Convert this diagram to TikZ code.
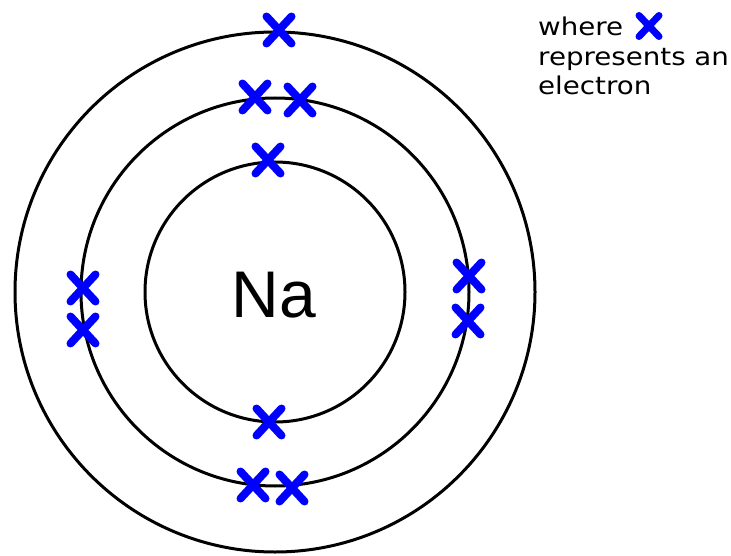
\documentclass[tikz,border=0pt]{standalone}
\usepackage{fontspec}
\setmainfont{Liberation Sans}
\newfontfamily\legendfont{DejaVu Sans}
\usepackage{xcolor}
\usetikzlibrary{positioning}
\definecolor{electronblue}{HTML}{0000FF}
\newcommand{\keytext}[1]{\scalebox{1.13}[1]{#1}}
\tikzset{
  shell/.style={draw=black,line width=3pt},
  electron/.pic={\draw[electronblue,line width=8pt,line cap=round]
      (-12.5,-13.5)--(12.5,13.5) (-12.5,13.5)--(12.5,-13.5);},
  keyelectron/.pic={\draw[electronblue,line width=7pt,line cap=round]
      (-10,-10.5)--(10,10.5) (-10,10.5)--(10,-10.5);},
  legend/.style={font=\legendfont\fontsize{24.5}{29}\selectfont,inner sep=0pt,anchor=base west}
}

\begin{document}
\begin{tikzpicture}[x=1pt,y=-1pt]
  \useasboundingbox (0,0) rectangle (731,556);
  \coordinate (C) at (275,292);
  % shells
  \draw[shell] (C) circle (130pt);
  \draw[shell] (C) circle (194pt);
  \draw[shell] (C) circle (260pt);
  \node (na) at (274,295) {\fontsize{66}{66}\selectfont Na};
  % electrons: 2, 8, 1
  \pic at (268,160) {electron};
  \pic at (269,422) {electron};
  \pic at (255,97) {electron};
  \pic at (300,100) {electron};
  \pic at (83,288) {electron};
  \pic at (83,330) {electron};
  \pic at (469,276) {electron};
  \pic at (468,321) {electron};
  \pic at (253,485) {electron};
  \pic at (292,488) {electron};
  \pic at (279,30) {electron};
  % key
  \node[legend] (where) at (538,36) {\keytext{where}};
  \pic at (649,26) {keyelectron};
  \node[legend] (represents) at (538,65.5) {\keytext{represents an}};
  \node[legend] (electron) at (538,95) {\keytext{electron}};
\end{tikzpicture}
\end{document}
